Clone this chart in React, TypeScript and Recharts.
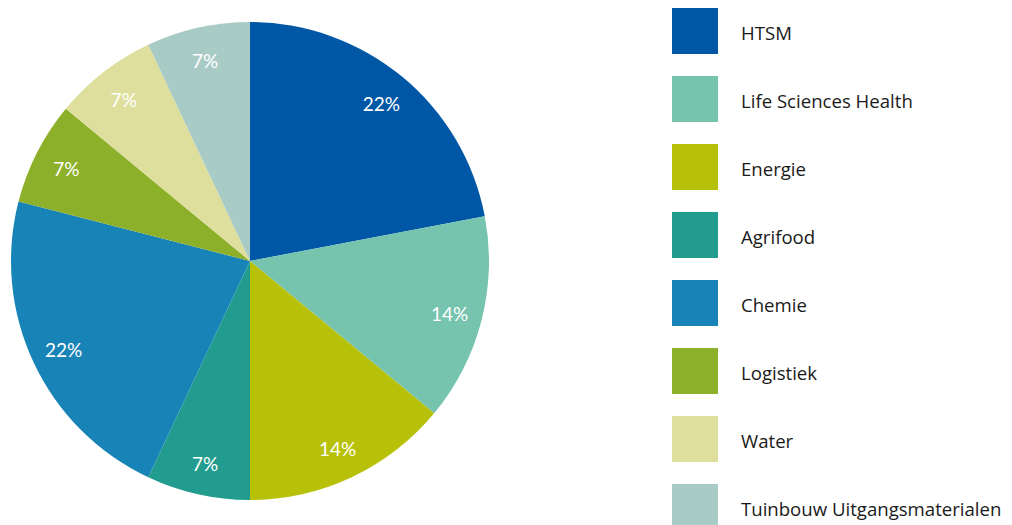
import React from 'react';
import { PieChart, Pie, Cell, Legend } from 'recharts';

const categories = ['HTSM', 'Life Sciences Health', 'Energie', 'Agrifood', 'Chemie', 'Logistiek', 'Water', 'Tuinbouw Uitgangsmaterialen'];
const values = [22, 14, 14, 7, 22, 7, 7, 7];
const colors = ['#0057A6', '#76C4AE', '#B8C10A', '#229C8E', '#1883B7', '#8DB02A', '#DEDF9C', '#A9CBC6'];

const data = categories.map((name, i) => ({ name, value: values[i] }));

const RAD = Math.PI / 180;

const renderLabel = (props: any) => {
  const { cx, cy, midAngle, value } = props;
  const r = 206;
  const x = cx + r * Math.cos(-midAngle * RAD);
  const y = cy + r * Math.sin(-midAngle * RAD) + 1;
  return (
    <text x={x} y={y} fill="#ffffff" textAnchor="middle" dominantBaseline="central" fontSize={19} fontFamily="Lato, sans-serif">
      {value}%
    </text>
  );
};

const LegendContent = () => (
  <div style={{ fontFamily: '"Open Sans", sans-serif' }}>
    {categories.map((c, i) => (
      <div key={c} style={{ display: 'flex', alignItems: 'center', height: 46, marginBottom: 22 }}>
        <div style={{ width: 46, height: 46, background: colors[i], flexShrink: 0 }} />
        <span style={{ marginLeft: 23, fontSize: 18.6, color: '#1a1a1a', whiteSpace: 'nowrap', position: 'relative', top: 1 }}>{c}</span>
      </div>
    ))}
  </div>
);

export default function App() {
  return (
    <PieChart width={1004} height={517} margin={{ top: 0, right: 0, bottom: 0, left: 0 }} style={{ overflow: 'visible' }}>
      <Pie
        data={data}
        dataKey="value"
        nameKey="name"
        cx={242}
        cy={253}
        outerRadius={239}
        startAngle={90}
        endAngle={-270}
        stroke="none"
        label={renderLabel}
        labelLine={false}
        isAnimationActive={false}
      >
        {data.map((d, i) => (
          <Cell key={d.name} fill={colors[i]} />
        ))}
      </Pie>
      <Legend
        content={<LegendContent />}
        layout="vertical"
        wrapperStyle={{ position: 'absolute', left: 664, top: 0, width: 346, overflow: 'visible' }}
      />
    </PieChart>
  );
}
